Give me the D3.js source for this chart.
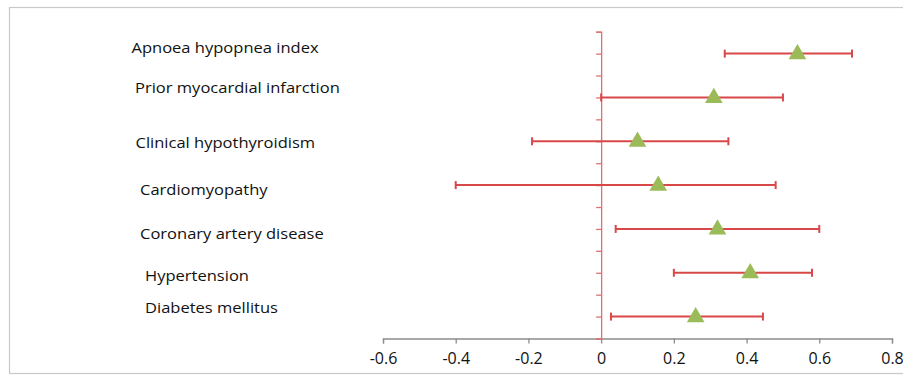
<!DOCTYPE html>
<html>
<head>
<meta charset="utf-8">
<script src="https://cdn.jsdelivr.net/npm/d3@7"></script>
<style>
  html, body { margin: 0; padding: 0; background: #fff; }
  svg { display: block; }
  text { font-family: "Open Sans", "Noto Sans", sans-serif; fill: #111; }
</style>
</head>
<body>
<svg id="chart" width="903" height="376"></svg>
<script>
// ---- data ----
const categories = ["Apnoea hypopnea index", "Prior myocardial infarction", "Clinical hypothyroidism",
  "Cardiomyopathy", "Coronary artery disease", "Hypertension", "Diabetes mellitus"];
const estimates = [0.54, 0.31, 0.10, 0.157, 0.32, 0.41, 0.26];
const lowerCI   = [0.34, 0.00, -0.19, -0.40, 0.04, 0.20, 0.027];
const upperCI   = [0.69, 0.50, 0.35, 0.48, 0.60, 0.58, 0.445];
const yPositions = [6.5, 5.5, 4.5, 3.5, 2.5, 1.5, 0.5];
const xTicks = [-0.6, -0.4, -0.2, 0, 0.2, 0.4, 0.6, 0.8];
const xTickLabels = ["-0.6", "-0.4", "-0.2", "0", "0.2", "0.4", "0.6", "0.8"];
const yTicks = d3.range(0, 7.01, 0.5);

// ---- layout (label placement as in the original text boxes) ----
const labelLayout = [
  {x: 131.5, y: 53.3}, {x: 135, y: 93.3}, {x: 135.5, y: 148.3},
  {x: 140, y: 195}, {x: 140, y: 239}, {x: 145, y: 281}, {x: 145, y: 312.7}
];

const svg = d3.select("#chart");
svg.append("rect").attr("width", 903).attr("height", 376).attr("fill", "#fff");
// outer frame
svg.append("rect").attr("x", 9.5).attr("y", 7.5).attr("width", 905).attr("height", 366)
  .attr("fill", "none").attr("stroke", "#c8c8c8").attr("stroke-width", 1.2);

const x = d3.scaleLinear().domain([-0.6, 0.8]).range([383, 892]);
const y = d3.scaleLinear().domain([0, 7]).range([338.5, 31.7]);

// x axis
const xAxis = svg.append("g").attr("transform", `translate(0,${y(0)})`)
  .call(d3.axisBottom(x).tickValues(xTicks).tickFormat((d, i) => xTickLabels[i])
    .tickSize(5).tickSizeOuter(5).tickPadding(9));
xAxis.selectAll("path, line").attr("stroke", "#8c8c8c").attr("stroke-width", 1.3);
xAxis.selectAll("text").attr("font-size", 16).attr("font-family", "Open Sans, sans-serif")
  .attr("fill", "#111");

// y axis (red, at x=0)
const yAxis = svg.append("g").attr("transform", `translate(${x(0)},0)`)
  .call(d3.axisLeft(y).tickValues(yTicks).tickFormat("").tickSize(5).tickSizeOuter(5));
yAxis.selectAll("path, line").attr("stroke", "#e07070").attr("stroke-width", 1.3);

// error bars
const g = svg.append("g");
const capH = 4;
categories.forEach((c, i) => {
  const yy = y(yPositions[i]);
  g.append("line").attr("x1", x(lowerCI[i])).attr("x2", x(upperCI[i]))
    .attr("y1", yy).attr("y2", yy).attr("stroke", "#d94848").attr("stroke-width", 2);
  [lowerCI[i], upperCI[i]].forEach(v => {
    g.append("line").attr("x1", x(v)).attr("x2", x(v)).attr("y1", yy - capH).attr("y2", yy + capH)
      .attr("stroke", "#d94848").attr("stroke-width", 2);
  });
});

// triangle markers
const tri = d3.symbol().type(d3.symbolTriangle).size(135);
categories.forEach((c, i) => {
  g.append("path").attr("d", tri)
    .attr("transform", `translate(${x(estimates[i])},${y(yPositions[i]) + 0.5})`)
    .attr("fill", "#9bbb59");
});

// category labels
categories.forEach((c, i) => {
  const L = labelLayout[i];
  svg.append("text").attr("transform", `translate(${L.x},${L.y}) scale(1.14,1)`)
    .attr("font-size", 14.5).attr("font-weight", 500).text(c);
});
</script>
</body>
</html>
